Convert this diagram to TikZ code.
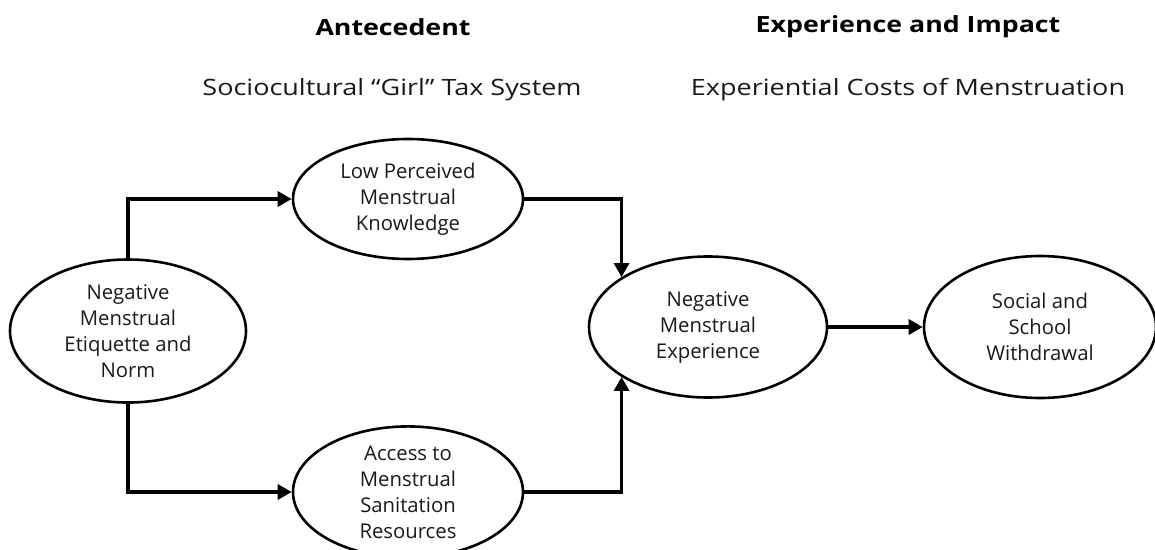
\documentclass[tikz,border=0pt]{standalone}
\usepackage{fontspec}
\setmainfont{Open Sans}[FakeStretch=1.2]
\newfontfamily\ovalfont{Open Sans}
\usetikzlibrary{arrows.meta,shapes.geometric}
\begin{document}
\begin{tikzpicture}[x=1pt,y=-1pt,
  oval/.style={draw,ellipse,line width=2.6pt,inner sep=0pt,align=center,
    font=\ovalfont\fontsize{20.3}{26}\selectfont,text=black!90},
  arr/.style={line width=3.2pt,-{Triangle[length=14pt,width=15pt]}},
  head/.style={font=\fontsize{22.3}{28}\selectfont\bfseries},
  sub/.style={font=\fontsize{22.5}{28}\selectfont,text=black!90}]
\useasboundingbox (0,0) rectangle (1155,549);
\node[head] (h1) at (393,27) {Antecedent};
\node[head] (h2) at (908,27) {Experience and Impact};
\node[sub] (s1) at (392,90) {Sociocultural “Girl” Tax System};
\node[sub] (s2) at (908,90) {Experiential Costs of Menstruation};
\node[oval,minimum width=236pt,minimum height=143pt] (L) at (128,331) {Negative\\Menstrual\\Etiquette and\\Norm};
\node[oval,minimum width=230pt,minimum height=120pt] (T) at (408,199) {Low Perceived\\Menstrual\\Knowledge};
\node[oval,minimum width=230pt,minimum height=120pt] (B) at (408,492) {Access to\\Menstrual\\Sanitation\\Resources};
\node[oval,minimum width=238pt,minimum height=141pt] (M) at (708,327) {Negative\\Menstrual\\Experience};
\node[oval,minimum width=232pt,minimum height=142pt] (R) at (1040,327) {Social and\\School\\Withdrawal};
\draw[arr] (L.north) |- (T.west);
\draw[arr] (L.south) |- (B.west);
\draw[arr] (T.east) -| (M.150);
\draw[arr] (B.east) -| (M.210);
\draw[arr] (M.east) -- (R.west);
\end{tikzpicture}
\end{document}
